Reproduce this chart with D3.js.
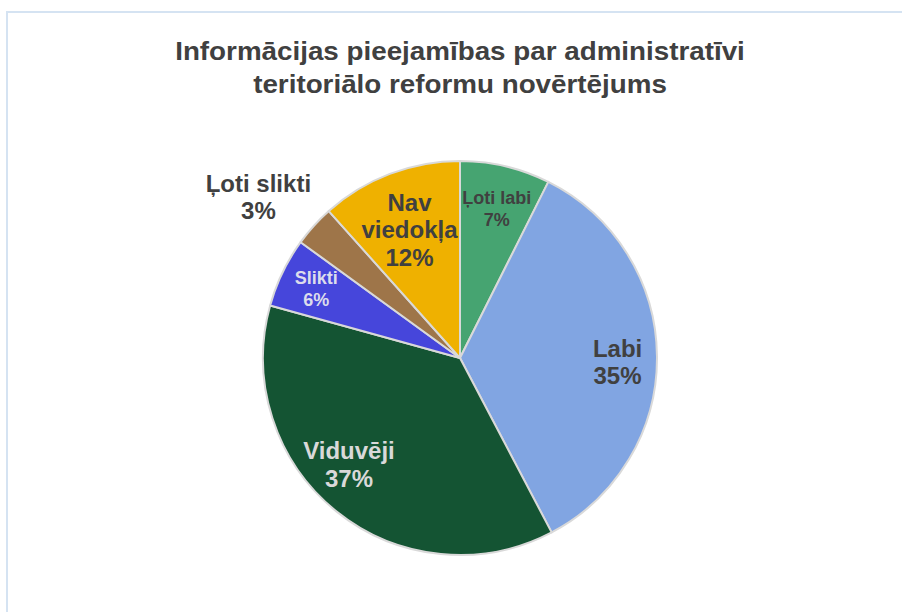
<!DOCTYPE html>
<html>
<head>
<meta charset="utf-8">
<script src="https://cdn.jsdelivr.net/npm/d3@7"></script>
<style>
  body { margin: 0; background: #fff; }
  svg { display: block; font-family: "Liberation Sans", Arial, sans-serif; }
</style>
</head>
<body>
<div id="chart-area"></div>
<script>
const categories = ["Ļoti labi", "Labi", "Viduvēji", "Slikti", "Ļoti slikti", "Nav viedokļa"];
const values = [7.4, 34.9, 37.0, 5.7, 3.4, 11.6];
const labelLines = [["Ļoti labi"], ["Labi"], ["Viduvēji"], ["Slikti"], ["Ļoti slikti"], ["Nav", "viedokļa"]];
const titleLines = ["Informācijas pieejamības par administratīvi", "teritoriālo reformu novērtējums"];

const colors = ["#46a471", "#81a5e2", "#145433", "#4646db", "#9e7549", "#efb100"];
const textColors = ["#404040", "#404040", "#d9d9d9", "#dcdcec", "#404040", "#404040"];
const fontSizes = [18, 24, 24, 18, 24, 24];
// label radius (fraction of r) and angle nudge in degrees
const labelPlace = [[0.78, 0.5], [0.80, 2], [0.78, 7.4], [0.81, 0], [1.31, -3.5], [0.70, -0.6]];

const chartSize = { width: 902, height: 612 };
const center = { x: 460, y: 358 };
const radius = 197;

const svg = d3.select("#chart-area").append("svg")
    .attr("width", chartSize.width)
    .attr("height", chartSize.height);

// chart frame
svg.append("path")
    .attr("d", `M7,${chartSize.height} V12 H${chartSize.width}`)
    .attr("fill", "none")
    .attr("stroke", "#d5e3f2")
    .attr("stroke-width", 2);

// title, a little wider than the plain font
svg.append("g")
    .attr("transform", "translate(460,0) scale(1.09,1)")
    .append("text")
    .attr("text-anchor", "middle")
    .attr("font-size", 25.5)
    .attr("font-weight", "bold")
    .attr("fill", "#404040")
    .selectAll("tspan")
    .data(titleLines)
    .join("tspan")
    .attr("x", 0)
    .attr("y", (d, i) => 60 + i * 33)
    .text(d => d);

const data = categories.map((c, i) => ({ name: c, value: values[i], idx: i }));
const total = d3.sum(values);

const pie = d3.pie().value(d => d.value).sort(null);
const arc = d3.arc().innerRadius(0).outerRadius(radius);
const arcs = pie(data);

const g = svg.append("g").attr("transform", `translate(${center.x},${center.y})`);

g.selectAll("path.slice")
    .data(arcs)
    .join("path")
    .attr("class", "slice")
    .attr("d", arc)
    .attr("fill", d => colors[d.data.idx])
    .attr("stroke", "#d9d9d9")
    .attr("stroke-width", 2)
    .attr("stroke-linejoin", "round");

const labels = g.selectAll("text.label")
    .data(arcs)
    .join("text")
    .attr("class", "label")
    .attr("text-anchor", "middle")
    .attr("font-weight", "bold")
    .attr("font-size", d => fontSizes[d.data.idx])
    .attr("fill", d => textColors[d.data.idx]);

labels.each(function (d) {
    const i = d.data.idx;
    const fs = fontSizes[i];
    const lh = fs < 20 ? fs * 1.22 : fs * 1.15;
    const [rf, nudge] = labelPlace[i];
    const a = (d.startAngle + d.endAngle) / 2 + nudge * Math.PI / 180;
    const lx = Math.sin(a) * radius * rf;
    const ly = -Math.cos(a) * radius * rf;
    const lines = labelLines[i].concat([Math.round(d.data.value / total * 100) + "%"]);
    const y0 = ly - (lines.length - 1) * lh / 2 + fs * 0.36;
    d3.select(this).selectAll("tspan")
        .data(lines)
        .join("tspan")
        .attr("x", lx)
        .attr("y", (t, k) => y0 + k * lh)
        .text(t => t);
});
</script>
</body>
</html>
